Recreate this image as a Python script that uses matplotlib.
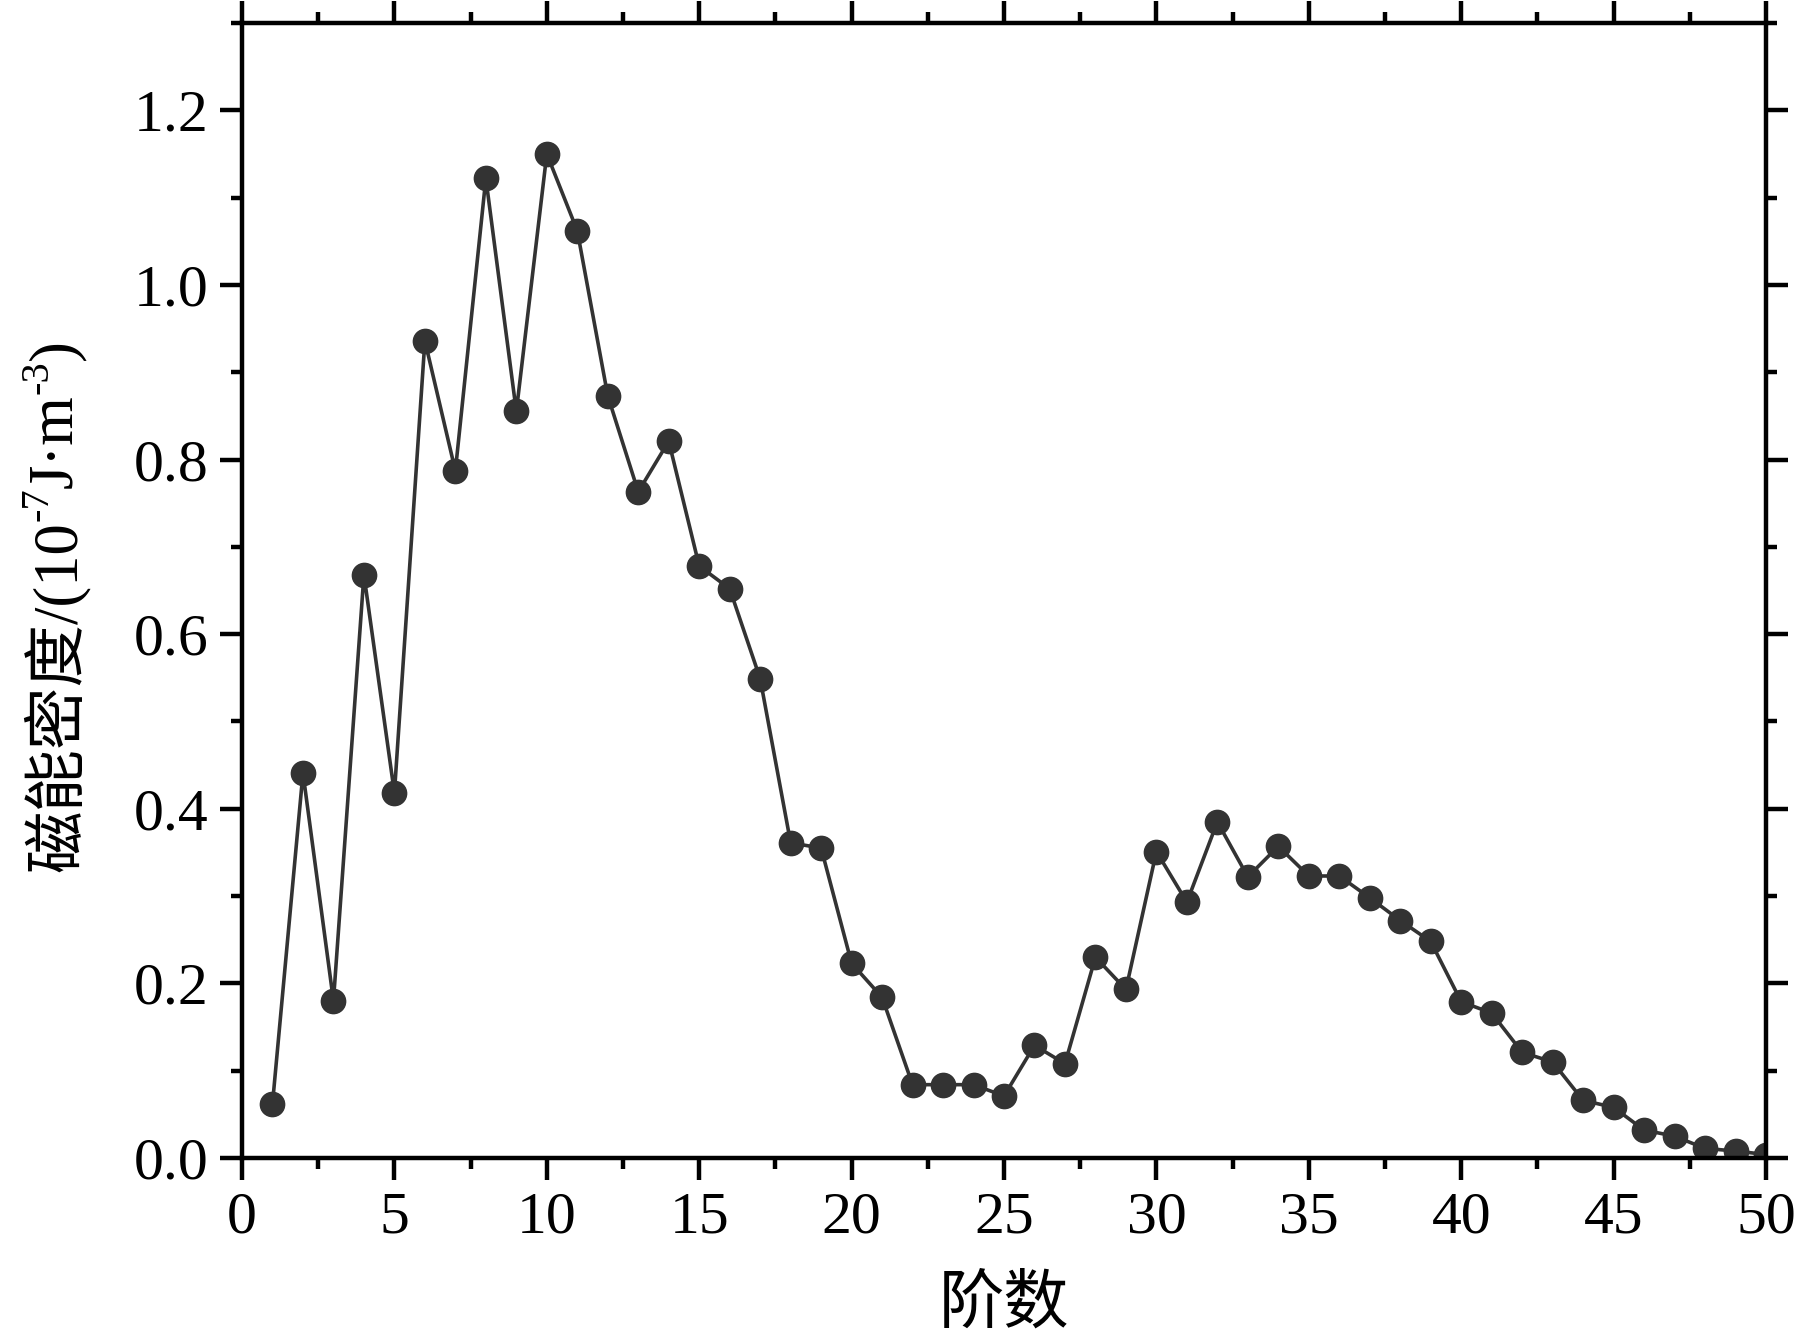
import matplotlib
matplotlib.use('Agg')
import matplotlib.pyplot as plt
from matplotlib.ticker import MultipleLocator

# 阶数与磁能密度
order = list(range(1, 51))
density = [0.062, 0.441, 0.180, 0.668, 0.418, 0.936, 0.787, 1.122, 0.855, 1.150,
           1.062, 0.873, 0.763, 0.821, 0.678, 0.652, 0.549, 0.361, 0.355, 0.223,
           0.184, 0.084, 0.084, 0.084, 0.071, 0.129, 0.108, 0.230, 0.193, 0.351,
           0.293, 0.385, 0.322, 0.357, 0.323, 0.323, 0.298, 0.272, 0.248, 0.179,
           0.166, 0.121, 0.110, 0.066, 0.058, 0.032, 0.025, 0.011, 0.008, 0.004]

xlabel = '阶数'
ylabel_parts = ['磁能密度/(10', '-7', 'J·m', '-3', ')']

plt.rcParams['font.family'] = ['Liberation Serif', 'Noto Sans CJK SC']

fig = plt.figure(figsize=(17.98, 13.42), dpi=100)
ax = fig.add_axes([0.1346, 0.1371, 0.8476, 0.8458])

ax.plot(order, density, color='#333333', linewidth=2.6, marker='o',
        markersize=17.5, markerfacecolor='#333333', markeredgecolor='#333333')

ax.set_xlim(0, 50)
ax.set_ylim(0, 1.3)
ax.xaxis.set_major_locator(MultipleLocator(5))
ax.xaxis.set_minor_locator(MultipleLocator(2.5))
ax.yaxis.set_major_locator(MultipleLocator(0.2))
ax.yaxis.set_minor_locator(MultipleLocator(0.1))
ax.yaxis.set_major_formatter(plt.FuncFormatter(lambda v, p: f'{v:.1f}'))

for s in ax.spines.values():
    s.set_linewidth(3.2)
ax.tick_params(which='both', direction='out', top=True, right=True, width=3.2,
               labelsize=43, pad=8)
ax.tick_params(which='major', length=16)
ax.tick_params(which='minor', length=8)

ax.set_xlabel(xlabel, fontsize=47, labelpad=22)

# y 轴标签：分段绘制以得到上标
t = ax.text(-0.122, 0.252, ylabel_parts[0], transform=ax.transAxes, rotation=90,
            ha='center', va='bottom', fontsize=45)
prev = t
for i, part in enumerate(ylabel_parts[1:]):
    sup = (i % 2 == 0)
    prev = ax.annotate(part, xy=(0.5, 1.0), xycoords=prev,
                       xytext=((-13, 0) if sup else (13, 0)),
                       textcoords='offset points', rotation=90,
                       ha='center', va='bottom', fontsize=29 if sup else 45)

fig.savefig('out.png', dpi=100)
